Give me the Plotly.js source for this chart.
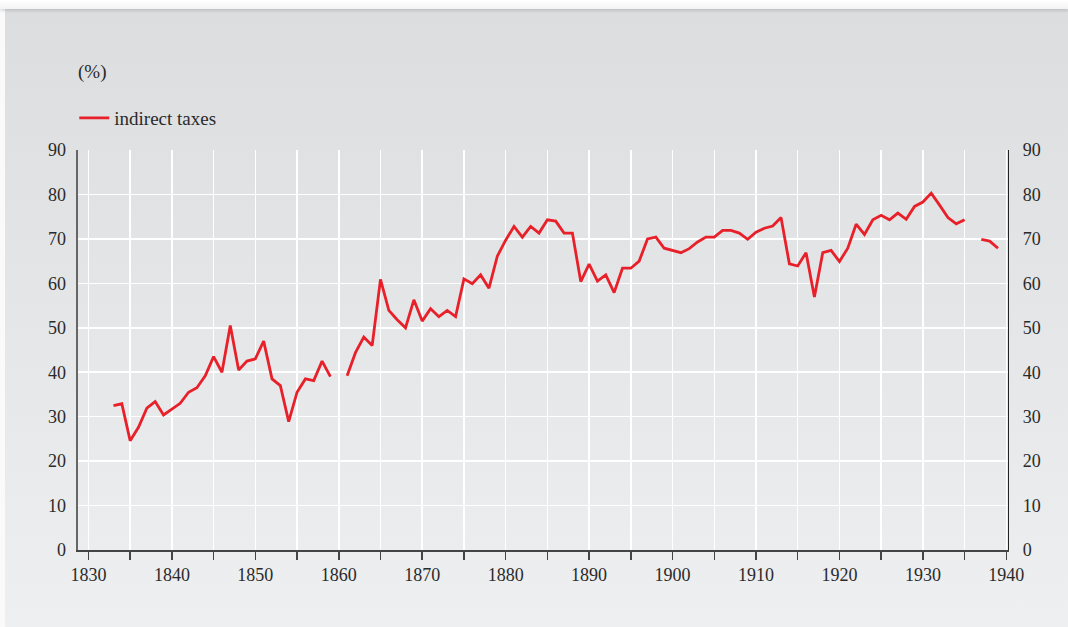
<!DOCTYPE html>
<html>
<head>
<meta charset="utf-8">
<script src="https://cdn.plot.ly/plotly-3.0.1.min.js"></script>
<style>
  html, body { margin: 0; padding: 0; background: #ffffff; }
  #frame { position: absolute; left: 0; top: 0; width: 1068px; height: 627px; overflow: hidden; background: #fafafa; }
  #topbar { position: absolute; left: 0; top: 0; width: 1068px; height: 9px; background: linear-gradient(to bottom, #ffffff, #f3f3f4); box-shadow: 0 2px 3px rgba(0,0,0,0.12); }
  #panel { position: absolute; left: 5px; top: 9px; width: 1063px; height: 618px; background: linear-gradient(to bottom, #dcdddf 0%, #e4e5e7 45%, #eeeff1 100%); }
  #chart { position: absolute; left: 0; top: 0; width: 1068px; height: 627px; }
</style>
</head>
<body>
<div id="frame">
  <div id="panel"></div>
  <div id="topbar"></div>
  <div id="chart"></div>
</div>
<script>
const years = [
  1833,1834,1835,1836,1837,1838,1839,1840,1841,1842,1843,1844,1845,1846,1847,1848,1849,
  1850,1851,1852,1853,1854,1855,1856,1857,1858,1859,1860,1861,1862,1863,1864,1865,1866,
  1867,1868,1869,1870,1871,1872,1873,1874,1875,1876,1877,1878,1879,1880,1881,1882,1883,
  1884,1885,1886,1887,1888,1889,1890,1891,1892,1893,1894,1895,1896,1897,1898,1899,1900,
  1901,1902,1903,1904,1905,1906,1907,1908,1909,1910,1911,1912,1913,1914,1915,1916,1917,
  1918,1919,1920,1921,1922,1923,1924,1925,1926,1927,1928,1929,1930,1931,1932,1933,1934,
  1935,1936,1937,1938,1939
];
const indirectTaxes = [
  32.5,32.9,24.6,27.6,31.9,33.4,30.4,31.7,33.0,35.5,36.5,39.2,43.5,40.0,50.5,40.5,42.5,
  43.0,47.0,38.5,37.0,28.9,35.5,38.5,38.1,42.5,39.0,null,39.2,44.4,47.9,46.0,60.9,53.9,
  51.8,50.0,56.3,51.5,54.3,52.5,53.9,52.5,61.0,59.9,61.9,58.9,66.1,69.7,72.8,70.4,72.8,
  71.3,74.3,74.0,71.3,71.3,60.4,64.3,60.5,61.9,57.9,63.4,63.4,65.0,70.0,70.4,67.9,67.4,
  66.9,67.8,69.3,70.4,70.4,71.9,71.9,71.3,69.9,71.5,72.4,72.9,74.8,64.4,63.9,66.9,56.9,
  66.9,67.4,64.9,67.9,73.3,71.0,74.3,75.3,74.3,75.8,74.4,77.3,78.3,80.3,77.6,74.8,73.4,
  74.3,null,69.9,69.5,67.9
];
const xTickVals = [1830,1835,1840,1845,1850,1855,1860,1865,1870,1875,1880,1885,1890,1895,1900,1905,1910,1915,1920,1925,1930,1935,1940];
const xTickText = ['1830','','1840','','1850','','1860','','1870','','1880','','1890','','1900','','1910','','1920','','1930','','1940'];
const yTickVals = [0,10,20,30,40,50,60,70,80,90];
const seriesName = 'indirect taxes';
const unitLabel = '(%)';

const FONT = 'Liberation Serif, Times New Roman, serif';
const TXT = '#2a2a2a';

const traces = [
  {
    x: years, y: indirectTaxes, type: 'scatter', mode: 'lines', name: seriesName,
    line: { color: '#e8202a', width: 2.8 }, connectgaps: false, hoverinfo: 'x+y'
  },
  {
    x: [years[0]], y: [null], type: 'scatter', mode: 'lines', yaxis: 'y2',
    showlegend: false, hoverinfo: 'skip'
  }
];

const layout = {
  width: 1068, height: 627,
  paper_bgcolor: 'rgba(0,0,0,0)', plot_bgcolor: 'rgba(0,0,0,0)',
  margin: { l: 78, r: 60, t: 150, b: 77 },
  font: { family: FONT, size: 18, color: TXT },
  showlegend: true,
  legend: {
    orientation: 'h', x: -0.004, xanchor: 'left', y: 1.08, yanchor: 'middle',
    bgcolor: 'rgba(0,0,0,0)', font: { family: FONT, size: 19, color: TXT }
  },
  xaxis: {
    range: [1828.75, 1940.2], tickmode: 'array', tickvals: xTickVals, ticktext: xTickText,
    showgrid: true, gridcolor: '#ffffff', gridwidth: 1.5, zeroline: false,
    showline: true, linecolor: '#444444', linewidth: 1.5,
    ticks: 'outside', ticklen: 8, tickwidth: 1.5, tickcolor: '#444444',
    tickfont: { family: FONT, size: 18, color: TXT }, fixedrange: true
  },
  yaxis: {
    range: [0, 90], tickmode: 'array', tickvals: yTickVals,
    showgrid: true, gridcolor: '#ffffff', gridwidth: 1.5, zeroline: false,
    showline: true, linecolor: '#666666', linewidth: 2.5,
    ticks: '', ticklabelstandoff: 6,
    tickfont: { family: FONT, size: 18, color: TXT }, fixedrange: true
  },
  yaxis2: {
    range: [0, 90], tickmode: 'array', tickvals: yTickVals, overlaying: 'y', side: 'right',
    showgrid: false, zeroline: false, showline: true, linecolor: '#222222', linewidth: 1.2,
    ticks: '', ticklabelstandoff: 10,
    tickfont: { family: FONT, size: 18, color: TXT }, fixedrange: true
  },
  annotations: [
    { text: unitLabel, xref: 'paper', yref: 'paper', x: -0.002, y: 1.195, xanchor: 'left', yanchor: 'middle',
      showarrow: false, font: { family: FONT, size: 19, color: TXT } }
  ]
};

Plotly.newPlot('chart', traces, layout, { displayModeBar: false, staticPlot: true });
</script>
</body>
</html>
